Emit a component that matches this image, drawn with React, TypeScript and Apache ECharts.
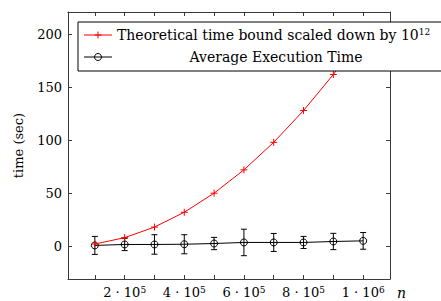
import React, { useEffect, useRef } from "react";
import * as echarts from "echarts";

const nValues = [100000, 200000, 300000, 400000, 500000, 600000, 700000, 800000, 900000, 1000000];
const theoreticalTime = [2, 8, 18, 32, 50, 72, 98, 128, 162, 200];
const averageTime = [0.7, 1.6, 1.6, 1.8, 2.5, 3.5, 3.5, 3.5, 4.4, 5.0];
const averageError = [8.5, 5.8, 9.2, 9.0, 5.8, 12.5, 8.5, 5.7, 7.7, 7.9];
const xTickValues = [100000, 200000, 300000, 400000, 500000, 600000, 700000, 800000, 900000, 1000000];
const xLabelValues = [200000, 400000, 600000, 800000, 1000000];
const yTickValues = [0, 50, 100, 150, 200];

const FONT = "DejaVu Serif";
const AX = "#3a3a3a";

function xLabel(v: number): string {
  if (v >= 1000000) return `${v / 1000000} · 10{sup|6}`;
  return `${v / 100000} · 10{sup|5}`;
}

export default function App() {
  const ref = useRef<HTMLDivElement>(null);
  useEffect(() => {
    if (!ref.current) return;
    const chart = echarts.init(ref.current, null, { renderer: "svg" });
    const xMin = 10000;
    const xMax = 1090000;
    const yMin = -31;
    const yMax = 221;
    const supRich = {
      sup: { fontFamily: FONT, fontSize: 9, color: "#000", verticalAlign: "top", padding: [0, 0, 6, 0] },
    };
    const baseAxisLine = { show: true, onZero: false, lineStyle: { color: AX, width: 1 } };
    const Z = 100;
    const option: any = {
      animation: false,
      textStyle: { fontFamily: FONT },
      grid: { left: 68, right: 51, top: 12, bottom: 22 },
      xAxis: [
        {
          type: "value",
          min: xMin,
          max: xMax,
          position: "bottom",
          axisLine: baseAxisLine,
          splitLine: { show: false },
          axisTick: { show: true, inside: true, length: 4, customValues: xTickValues, lineStyle: { color: AX } },
          axisLabel: {
            customValues: xLabelValues,
            formatter: (v: number) => xLabel(v),
            fontFamily: FONT,
            fontSize: 13,
            color: "#000",
            margin: 6,
            rich: supRich,
          },
        },
        {
          type: "value",
          min: xMin,
          max: xMax,
          position: "top",
          axisLine: baseAxisLine,
          splitLine: { show: false },
          axisTick: { show: true, inside: true, length: 4, customValues: xTickValues, lineStyle: { color: AX } },
          axisLabel: { show: false },
        },
      ],
      yAxis: [
        {
          type: "value",
          min: yMin,
          max: yMax,
          position: "left",
          axisLine: baseAxisLine,
          splitLine: { show: false },
          axisTick: { show: true, inside: true, length: 4, customValues: yTickValues, lineStyle: { color: AX } },
          axisLabel: { customValues: yTickValues, fontFamily: FONT, fontSize: 13, color: "#000", margin: 6 },
          name: "time (sec)",
          nameLocation: "middle",
          nameGap: 43,
          nameTextStyle: { fontFamily: FONT, fontSize: 13, color: "#000" },
        },
        {
          type: "value",
          min: yMin,
          max: yMax,
          position: "right",
          axisLine: baseAxisLine,
          splitLine: { show: false },
          axisTick: { show: true, inside: true, length: 4, customValues: yTickValues, lineStyle: { color: AX } },
          axisLabel: { show: false },
        },
      ],
      series: [
        {
          type: "custom",
          name: "errors",
          xAxisIndex: 0,
          yAxisIndex: 0,
          data: nValues.map((n, i) => [n, averageTime[i] - averageError[i], averageTime[i] + averageError[i]]),
          renderItem: (params: any, api: any) => {
            const x = api.value(0);
            const lo = api.coord([x, api.value(1)]);
            const hi = api.coord([x, api.value(2)]);
            const w = 3;
            const style = { stroke: "#000", lineWidth: 1 };
            return {
              type: "group",
              children: [
                { type: "line", shape: { x1: lo[0], y1: lo[1], x2: hi[0], y2: hi[1] }, style },
                { type: "line", shape: { x1: lo[0] - w, y1: lo[1], x2: lo[0] + w, y2: lo[1] }, style },
                { type: "line", shape: { x1: hi[0] - w, y1: hi[1], x2: hi[0] + w, y2: hi[1] }, style },
              ],
            };
          },
          z: 2,
        },
        {
          type: "line",
          name: "Average Execution Time",
          data: nValues.map((n, i) => [n, averageTime[i]]),
          symbol: "circle",
          symbolSize: 7,
          showAllSymbol: true,
          lineStyle: { color: "#000", width: 1 },
          itemStyle: { color: "rgba(0,0,0,0)", borderColor: "#000", borderWidth: 1 },
          z: 3,
        },
        {
          type: "line",
          name: "Theoretical time bound",
          data: nValues.map((n, i) => [n, theoreticalTime[i]]),
          symbol: "path://M5,0 L5,10 M0,5 L10,5",
          symbolSize: 7,
          showAllSymbol: true,
          lineStyle: { color: "#ff0000", width: 1 },
          itemStyle: { color: "#ff0000", borderColor: "#ff0000", borderWidth: 1 },
          z: 4,
        },
      ],
      graphic: {
        elements: [
          { type: "rect", z: Z, shape: { x: 78, y: 22, width: 380, height: 49 }, style: { fill: "#fff", stroke: "#000", lineWidth: 1 } },
          { type: "line", z: Z + 1, shape: { x1: 84, y1: 35, x2: 112, y2: 35 }, style: { stroke: "#ff0000", lineWidth: 1 } },
          { type: "line", z: Z + 1, shape: { x1: 98, y1: 31.5, x2: 98, y2: 38.5 }, style: { stroke: "#ff0000", lineWidth: 1 } },
          { type: "line", z: Z + 1, shape: { x1: 94.5, y1: 35, x2: 101.5, y2: 35 }, style: { stroke: "#ff0000", lineWidth: 1 } },
          { type: "line", z: Z + 1, shape: { x1: 84, y1: 57, x2: 112, y2: 57 }, style: { stroke: "#000", lineWidth: 1 } },
          { type: "circle", z: Z + 2, shape: { cx: 98, cy: 57, r: 3.5 }, style: { fill: "none", stroke: "#000", lineWidth: 1 } },
          {
            type: "text",
            z: Z + 1,
            x: 117,
            y: 35,
            style: {
              text: "Theoretical time bound scaled down by 10{sup|12}",
              fontFamily: FONT,
              fontSize: 14,
              fill: "#000",
              verticalAlign: "middle",
              rich: supRich,
            },
          },
          {
            type: "text",
            z: Z + 1,
            x: 276,
            y: 57,
            style: {
              text: "Average Execution Time",
              fontFamily: FONT,
              fontSize: 14,
              fill: "#000",
              align: "center",
              verticalAlign: "middle",
            },
          },
          {
            type: "text",
            z: Z + 1,
            x: 397,
            y: 293,
            style: {
              text: "n",
              fontFamily: FONT,
              fontStyle: "italic",
              fontSize: 14,
              fill: "#000",
              verticalAlign: "middle",
            },
          },
        ],
      },
    };
    chart.setOption(option);
    return () => chart.dispose();
  }, []);
  return (
    <div
      ref={ref}
      style={{ position: "fixed", left: 0, top: 0, width: 441, height: 301, background: "#fff" }}
    />
  );
}
